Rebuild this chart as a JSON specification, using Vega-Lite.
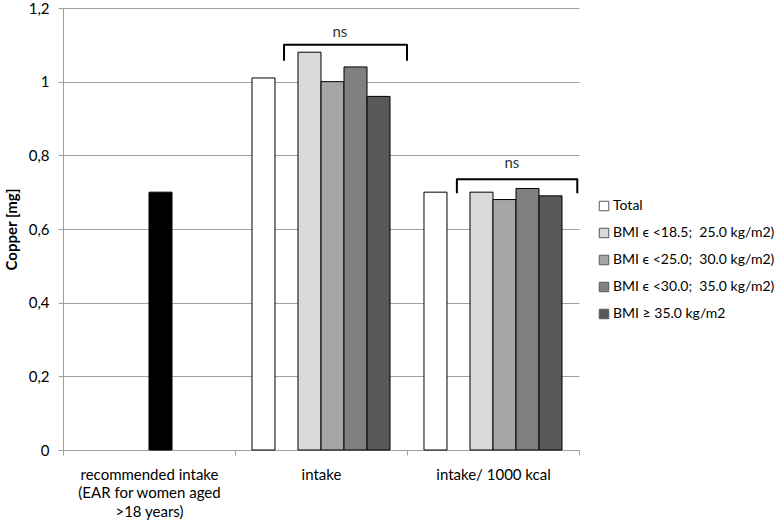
{
  "$schema": "https://vega.github.io/schema/vega-lite/v6.json",
  "width": 516,
  "height": 442,
  "autosize": "none",
  "padding": {"left": 63, "top": 8, "right": 199, "bottom": 70},
  "background": "white",
  "config": {
    "view": {"stroke": null},
    "font": "Lato",
    "legend": {
      "labelFontSize": 14,
      "labelLimit": 300,
      "labelColor": "#000000",
      "symbolType": "square",
      "symbolSize": 90,
      "symbolStrokeColor": "#595959",
      "symbolStrokeWidth": 1,
      "rowPadding": 13,
      "labelOffset": 2
    }
  },
  "datasets": {
    "bars": [
      {"category": "recommended intake\n(EAR for women aged\n>18 years)", "series": "EAR for women aged >18 years", "value": 0.70},
      {"category": "intake", "series": "Total", "value": 1.01},
      {"category": "intake", "series": "BMI ϵ <18.5; \u00a025.0 kg/m2)", "value": 1.08},
      {"category": "intake", "series": "BMI ϵ <25.0; \u00a030.0 kg/m2)", "value": 1.00},
      {"category": "intake", "series": "BMI ϵ <30.0; \u00a035.0 kg/m2)", "value": 1.04},
      {"category": "intake", "series": "BMI ≥ 35.0 kg/m2", "value": 0.96},
      {"category": "intake/ 1000 kcal", "series": "Total", "value": 0.70},
      {"category": "intake/ 1000 kcal", "series": "BMI ϵ <18.5; \u00a025.0 kg/m2)", "value": 0.70},
      {"category": "intake/ 1000 kcal", "series": "BMI ϵ <25.0; \u00a030.0 kg/m2)", "value": 0.68},
      {"category": "intake/ 1000 kcal", "series": "BMI ϵ <30.0; \u00a035.0 kg/m2)", "value": 0.71},
      {"category": "intake/ 1000 kcal", "series": "BMI ≥ 35.0 kg/m2", "value": 0.69}
    ],
    "brackets": [
      {"group": "intake", "ord": 1, "pos": 1.285, "value": 1.057},
      {"group": "intake", "ord": 2, "pos": 1.285, "value": 1.10},
      {"group": "intake", "ord": 3, "pos": 2.0, "value": 1.10},
      {"group": "intake", "ord": 4, "pos": 2.0, "value": 1.057},
      {"group": "kcal", "ord": 1, "pos": 2.29, "value": 0.697},
      {"group": "kcal", "ord": 2, "pos": 2.29, "value": 0.735},
      {"group": "kcal", "ord": 3, "pos": 2.99, "value": 0.735},
      {"group": "kcal", "ord": 4, "pos": 2.99, "value": 0.697}
    ],
    "notes": [
      {"pos": 1.61, "value": 1.135, "text": "ns"},
      {"pos": 2.61, "value": 0.778, "text": "ns"}
    ]
  },
  "layer": [
    {
      "data": {"name": "bars"},
      "transform": [{"filter": "datum.series != 'EAR for women aged >18 years'"}],
      "mark": {"type": "bar", "stroke": "#000000", "strokeWidth": 1},
      "encoding": {
        "x": {
          "field": "category", "type": "nominal", "sort": null,
          "scale": {"domain": ["recommended intake\n(EAR for women aged\n>18 years)", "intake", "intake/ 1000 kcal"], "paddingInner": 0, "paddingOuter": 0},
          "axis": {
            "title": null, "labelAngle": 0, "domainColor": "#a0a0a0", "tickColor": "#a0a0a0",
            "tickBand": "extent", "tickSize": 5, "labelFontSize": 15, "labelColor": "#000000",
            "labelPadding": 12, "labelLineHeight": 18.5, "labelLimit": 300,
            "labelExpr": "split(datum.label, '\\n')"
          }
        },
        "xOffset": {
          "field": "series", "type": "nominal",
          "scale": {"domain": ["Total", "gap", "BMI ϵ <18.5; \u00a025.0 kg/m2)", "BMI ϵ <25.0; \u00a030.0 kg/m2)", "BMI ϵ <30.0; \u00a035.0 kg/m2)", "BMI ≥ 35.0 kg/m2"], "paddingInner": 0, "paddingOuter": 0.739}
        },
        "y": {
          "field": "value", "type": "quantitative", "title": "Copper [mg]",
          "scale": {"domain": [0, 1.2], "nice": false, "zero": true},
          "axis": {
            "values": [0, 0.2, 0.4, 0.6, 0.8, 1, 1.2],
            "labelExpr": "replace(format(datum.value, '.1~f'), '.', ',')",
            "grid": true, "gridColor": "#a0a0a0", "domainColor": "#a0a0a0", "tickColor": "#a0a0a0",
            "tickSize": 5, "labelFontSize": 15, "labelColor": "#000000", "labelPadding": 9,
            "titleFontSize": 15, "titleFontWeight": "bold", "titleColor": "#000000", "titlePadding": 9
          }
        },
        "color": {
          "field": "series", "type": "nominal",
          "scale": {
            "domain": ["Total", "BMI ϵ <18.5; \u00a025.0 kg/m2)", "BMI ϵ <25.0; \u00a030.0 kg/m2)", "BMI ϵ <30.0; \u00a035.0 kg/m2)", "BMI ≥ 35.0 kg/m2"],
            "range": ["#ffffff", "#d9d9d9", "#a6a6a6", "#808080", "#595959"]
          },
          "legend": {"title": null, "orient": "none", "legendX": 534, "legendY": 191}
        }
      }
    },
    {
      "data": {"name": "bars"},
      "transform": [{"filter": "datum.series == 'EAR for women aged >18 years'"}],
      "mark": {"type": "bar", "stroke": "#000000", "strokeWidth": 1, "color": "#000000"},
      "encoding": {
        "x": {
          "field": "category", "type": "nominal", "sort": null,
          "scale": {"domain": ["recommended intake\n(EAR for women aged\n>18 years)", "intake", "intake/ 1000 kcal"], "paddingInner": 0, "paddingOuter": 0},
          "axis": null
        },
        "xOffset": {
          "field": "series", "type": "nominal",
          "scale": {"domain": ["s0", "s1", "s2", "EAR for women aged >18 years", "s4", "s5"], "paddingInner": 0, "paddingOuter": 0.739}
        },
        "y": {
          "field": "value", "type": "quantitative", "title": "Copper [mg]",
          "scale": {"domain": [0, 1.2], "nice": false, "zero": true},
          "axis": {
            "values": [0, 0.2, 0.4, 0.6, 0.8, 1, 1.2],
            "labelExpr": "replace(format(datum.value, '.1~f'), '.', ',')",
            "grid": true, "gridColor": "#a0a0a0", "domainColor": "#a0a0a0", "tickColor": "#a0a0a0",
            "tickSize": 5, "labelFontSize": 15, "labelColor": "#000000", "labelPadding": 9,
            "titleFontSize": 15, "titleFontWeight": "bold", "titleColor": "#000000", "titlePadding": 9
          }
        }
      }
    },
    {
      "data": {"name": "brackets"},
      "mark": {"type": "line", "color": "#000000", "strokeWidth": 2, "strokeJoin": "round"},
      "encoding": {
        "x": {"field": "pos", "type": "quantitative", "scale": {"domain": [0, 3], "nice": false, "zero": false}, "axis": null},
        "y": {
          "field": "value", "type": "quantitative", "title": "Copper [mg]",
          "scale": {"domain": [0, 1.2], "nice": false, "zero": true},
          "axis": {
            "values": [0, 0.2, 0.4, 0.6, 0.8, 1, 1.2],
            "labelExpr": "replace(format(datum.value, '.1~f'), '.', ',')",
            "grid": true, "gridColor": "#a0a0a0", "domainColor": "#a0a0a0", "tickColor": "#a0a0a0",
            "tickSize": 5, "labelFontSize": 15, "labelColor": "#000000", "labelPadding": 9,
            "titleFontSize": 15, "titleFontWeight": "bold", "titleColor": "#000000", "titlePadding": 9
          }
        },
        "detail": {"field": "group", "type": "nominal"},
        "order": {"field": "ord", "type": "quantitative"}
      }
    },
    {
      "data": {"name": "notes"},
      "mark": {"type": "text", "fontSize": 15, "color": "#333333", "baseline": "middle", "align": "center"},
      "encoding": {
        "x": {"field": "pos", "type": "quantitative", "scale": {"domain": [0, 3], "nice": false, "zero": false}, "axis": null},
        "y": {
          "field": "value", "type": "quantitative", "title": "Copper [mg]",
          "scale": {"domain": [0, 1.2], "nice": false, "zero": true},
          "axis": {
            "values": [0, 0.2, 0.4, 0.6, 0.8, 1, 1.2],
            "labelExpr": "replace(format(datum.value, '.1~f'), '.', ',')",
            "grid": true, "gridColor": "#a0a0a0", "domainColor": "#a0a0a0", "tickColor": "#a0a0a0",
            "tickSize": 5, "labelFontSize": 15, "labelColor": "#000000", "labelPadding": 9,
            "titleFontSize": 15, "titleFontWeight": "bold", "titleColor": "#000000", "titlePadding": 9
          }
        },
        "text": {"field": "text", "type": "nominal"}
      }
    }
  ],
  "resolve": {"scale": {"x": "independent", "xOffset": "independent"}}
}
